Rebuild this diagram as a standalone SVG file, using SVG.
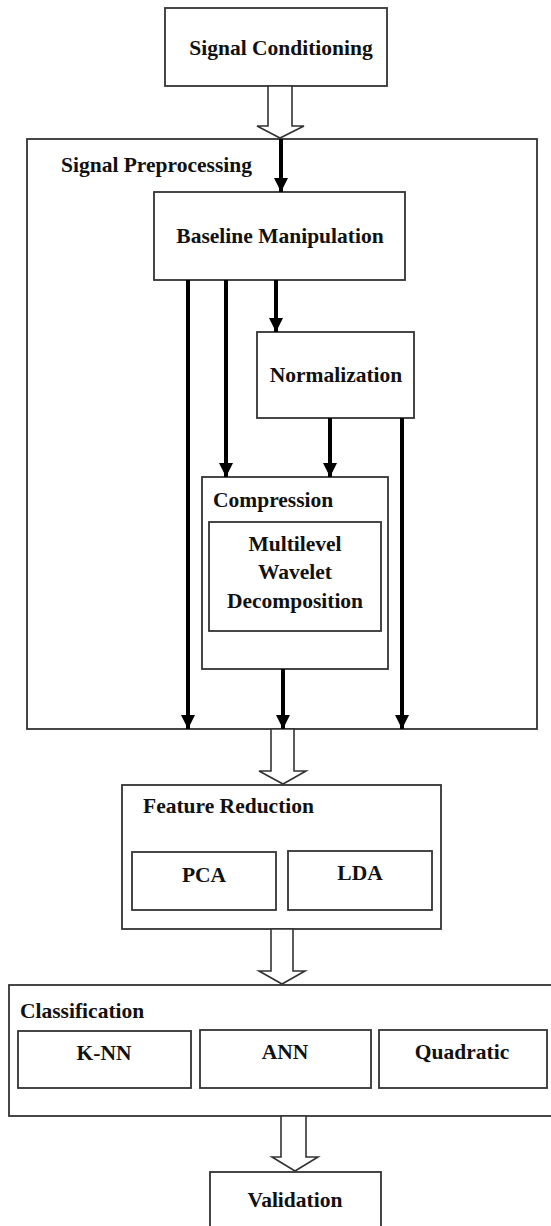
<svg xmlns="http://www.w3.org/2000/svg" width="551" height="1226" viewBox="0 0 551 1226">
<style>
.box{fill:#fff;stroke:#333;stroke-width:1.8}
.t{font-family:"Liberation Serif","Times New Roman",serif;font-weight:bold;font-size:21.5px;fill:#111}
.c{text-anchor:middle}
.ln{stroke:#000;stroke-width:4;fill:none}
.hol{fill:#fff;stroke:#333;stroke-width:1.6;stroke-linejoin:miter}
</style>
<defs>
<marker id="ah" markerUnits="userSpaceOnUse" markerWidth="15" markerHeight="16" refX="14" refY="8" orient="auto" viewBox="0 0 15 16">
<path d="M0,1 L14,8 L0,15 Z" fill="#000"/>
</marker>
</defs>
<rect width="551" height="1226" fill="#fff"/>

<g id="signal-conditioning">
<rect class="box" x="165" y="8" width="222" height="78"/>
<text class="t c" x="281" y="55">Signal Conditioning</text>
</g>

<g id="signal-preprocessing">
<rect class="box" x="27" y="139" width="510" height="590" fill="none"/>
<text class="t" x="61" y="172">Signal Preprocessing</text>
</g>

<g id="baseline-manipulation">
<rect class="box" x="154" y="192" width="251" height="88"/>
<text class="t c" x="280" y="243">Baseline Manipulation</text>
</g>

<g id="normalization">
<rect class="box" x="257" y="332" width="157" height="86"/>
<text class="t c" x="336" y="382">Normalization</text>
</g>

<g id="compression">
<rect class="box" x="202" y="477" width="186" height="192"/>
<text class="t" x="213" y="507">Compression</text>
</g>

<g id="wavelet">
<rect class="box" x="209" y="522" width="172" height="109"/>
<text class="t c" x="295" y="551">Multilevel</text>
<text class="t c" x="295" y="579">Wavelet</text>
<text class="t c" x="295" y="608">Decomposition</text>
</g>

<g id="feature-reduction">
<rect class="box" x="122" y="785" width="319" height="144"/>
<text class="t" x="143" y="813">Feature Reduction</text>
</g>
<g id="pca">
<rect class="box" x="132" y="852" width="144" height="58"/>
<text class="t c" x="204" y="882">PCA</text>
</g>
<g id="lda">
<rect class="box" x="288" y="851" width="144" height="59"/>
<text class="t c" x="360" y="880">LDA</text>
</g>

<g id="classification">
<rect class="box" x="9" y="985" width="560" height="131"/>
<text class="t" x="20" y="1018">Classification</text>
</g>
<g id="knn">
<rect class="box" x="18" y="1031" width="173" height="57"/>
<text class="t c" x="104" y="1060">K-NN</text>
</g>
<g id="ann">
<rect class="box" x="200" y="1030" width="171" height="58"/>
<text class="t c" x="285" y="1059">ANN</text>
</g>
<g id="quadratic">
<rect class="box" x="379" y="1030" width="168" height="58"/>
<text class="t c" x="462" y="1059">Quadratic</text>
</g>

<g id="validation">
<rect class="box" x="210" y="1172" width="171" height="70"/>
<text class="t c" x="295" y="1207">Validation</text>
</g>

<g id="connectors">
<path class="hol" d="M268,86 L292,86 L292,126 L304,126 L280,138 L257,126 L268,126 Z"/>
<path class="hol" d="M271,729 L294,729 L294,771 L306,771 L283,784 L259,771 L271,771 Z"/>
<path class="hol" d="M271,929 L293,929 L293,971 L305,971 L282,984 L259,971 L271,971 Z"/>
<path class="hol" d="M281,1116 L306,1116 L306,1157 L318,1157 L295,1171 L272,1157 L281,1157 Z"/>
<line class="ln" x1="281" y1="139" x2="281" y2="192" marker-end="url(#ah)"/>
<line class="ln" x1="188" y1="280" x2="188" y2="729" marker-end="url(#ah)"/>
<line class="ln" x1="226" y1="280" x2="226" y2="477" marker-end="url(#ah)"/>
<line class="ln" x1="276" y1="280" x2="276" y2="332" marker-end="url(#ah)"/>
<line class="ln" x1="330" y1="418" x2="330" y2="477" marker-end="url(#ah)"/>
<line class="ln" x1="402" y1="418" x2="402" y2="729" marker-end="url(#ah)"/>
<line class="ln" x1="283" y1="669" x2="283" y2="729" marker-end="url(#ah)"/>
</g>
</svg>
